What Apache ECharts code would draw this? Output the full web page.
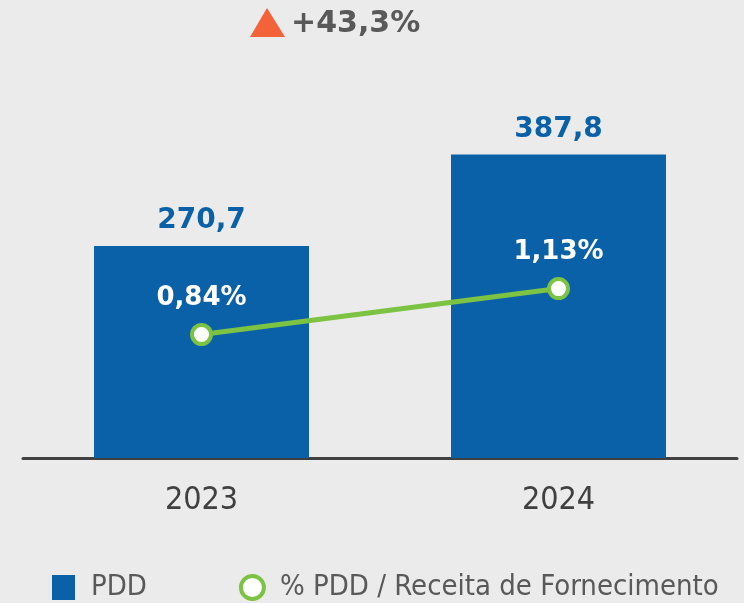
<!DOCTYPE html>
<html lang="pt">
<head>
    <meta charset="UTF-8">
    <title>PDD</title>
    <style>
        html, body { margin: 0; padding: 0; background: #ebebeb; }
    </style>
</head>
<body>
    <div id="chart" style="width:744px; height:603px"></div>

    <script src="https://cdn.jsdelivr.net/npm/echarts@6/dist/echarts.min.js"></script>
    <script>
        // dados
        const anos = ['2023', '2024'];
        const pdd = [270.7, 387.8];
        const pddPct = [0.84, 1.13];
        const variacao = '+43,3%';

        const fmt = (v, d) => v.toFixed(d).replace('.', ',');

        const azul = '#0b61a8';
        const verde = '#7cc243';
        const fonteEstreita = '"DejaVu Sans Condensed", Roboto, sans-serif';

        const chart = echarts.init(document.querySelector('#chart'));

        chart.setOption({
            backgroundColor: '#ebebeb',
            animation: false,
            grid: { left: 23, right: 7, top: 40, bottom: 145 },
            legend: {
                left: 52,
                top: 573,
                padding: 0,
                itemWidth: 23,
                itemHeight: 25,
                itemGap: 92,
                textStyle: { fontFamily: fonteEstreita, fontSize: 29, color: '#595959', padding: [0, 0, 0, 11] },
                data: [
                    { name: 'PDD', icon: 'rect' },
                    { name: '% PDD / Receita de Fornecimento', icon: 'circle',
                      itemStyle: { color: '#fff', borderColor: verde, borderWidth: 4 } }
                ]
            },
            xAxis: {
                type: 'category',
                data: anos,
                axisLine: { lineStyle: { color: '#404040', width: 3 } },
                axisTick: { show: false },
                axisLabel: { margin: 27, fontFamily: fonteEstreita, fontSize: 32, color: '#404040' }
            },
            yAxis: [
                { type: 'value', min: 0, max: 534, show: false },
                { type: 'value', min: 0.06, max: 2.7, show: false }
            ],
            series: [
                {
                    name: 'PDD',
                    type: 'bar',
                    barWidth: 215,
                    data: pdd,
                    itemStyle: { color: azul },
                    label: {
                        show: true,
                        position: 'top',
                        distance: 11,
                        fontFamily: 'DejaVu Sans',
                        fontWeight: 'bold',
                        fontSize: 28,
                        color: azul,
                        formatter: (p) => fmt(p.value, 1)
                    }
                },
                {
                    name: '% PDD / Receita de Fornecimento',
                    type: 'line',
                    yAxisIndex: 1,
                    data: pddPct,
                    symbol: 'circle',
                    symbolSize: 19,
                    lineStyle: { color: verde, width: 5 },
                    itemStyle: { color: '#fff', borderColor: verde, borderWidth: 4 },
                    label: {
                        show: true,
                        position: 'top',
                        distance: 12,
                        fontFamily: 'DejaVu Sans',
                        fontWeight: 'bold',
                        fontSize: 26,
                        color: '#fff',
                        formatter: (p) => fmt(p.value, 2) + '%'
                    }
                }
            ],
            graphic: [
                {
                    type: 'polygon',
                    shape: { points: [[267, 8], [285, 37], [250, 37]] },
                    style: { fill: '#f4623a' }
                },
                {
                    type: 'text',
                    left: 291,
                    top: 9,
                    style: {
                        text: variacao,
                        font: 'bold 30px "DejaVu Sans"',
                        fill: '#595959'
                    }
                }
            ]
        });
    </script>
</body>
</html>
